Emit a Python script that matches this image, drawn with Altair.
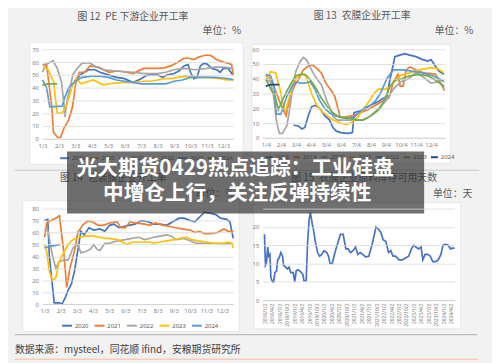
import altair as alt
import pandas as pd

FONT = "Noto Sans CJK SC"
NUMFONT = "Noto Sans"

# ---------------- 图12 PE下游企业开工率 ----------------
PE_ORDER = ["2019", "2020", "2021", "2022", "2023", "2024"]
PE_COLORS = ["#4472C4", "#ED7D31", "#A5A5A5", "#FFC000", "#5B9BD5", "#70AD47"]
PE_2019_M = [2.0, 2.3, 2.8, 3.2, 3.5, 4.0, 4.5, 5.0, 5.5, 6.0, 6.3, 6.6, 7.0, 7.3, 7.6, 8.0, 8.3, 8.6, 8.85, 9.0, 9.2, 9.4, 9.6, 9.8, 10.0, 10.3, 10.6, 10.8, 11.0, 11.3, 11.5, 11.6]
PE_2019_V = [45, 50, 54, 54, 52, 50, 48, 47, 44, 47, 49.5, 50, 50, 48, 50, 51, 53, 57, 58, 52, 47, 48, 57, 59, 58.5, 55, 54, 52, 55, 55, 51, 50]
PE_2020_M = [0, 0.25, 0.57, 0.67, 0.93, 1.1, 1.3, 1.6, 1.83, 2.04, 2.25, 2.57, 2.88, 3.4, 4.04, 4.57, 5.1, 5.5, 6.15, 7.0, 7.4, 7.8, 8.25, 8.57, 8.9, 9.2, 9.5, 9.94, 10.25, 10.57, 11.0, 11.3, 11.5, 11.6]
PE_2020_V = [58, 58, 25, 5, 1, 1, 8, 15, 25, 45, 52, 52, 57, 56, 52, 53, 52, 51, 55, 55, 55.5, 57, 60, 63, 63, 62, 64, 65.5, 65, 62, 60, 59, 58, 50]
PE_2021_M = [0, 0.2, 0.5, 0.65, 0.9, 1.15, 1.3, 1.37, 1.5, 1.85, 2.1, 2.4, 2.85, 3.3, 3.7, 4.5, 5.5, 6.2, 7.0, 7.5, 8.0, 8.6, 9.3, 10.0, 10.5, 11.0, 11.6]
PE_2021_V = [52, 58, 60, 61, 55, 45, 28, 17, 30, 50, 55, 59, 59.5, 56, 54, 53, 52, 51, 51, 52, 54, 55, 54, 55, 56, 56, 55]
PE_2022_M = [0.05, 0.3, 0.67, 0.9, 1.2, 1.5, 1.83, 2.04, 2.36, 2.8, 3.1, 3.4, 3.7, 4.04, 4.46, 4.9, 5.5, 6.15, 6.6, 7.0, 7.4, 7.8, 8.25, 8.7, 9.1, 9.5, 9.9, 10.4, 10.8, 11.2, 11.6]
PE_2022_V = [56, 55, 45, 20, 20, 27, 42, 47, 43, 45, 46, 44, 42, 43, 43.5, 44, 44, 45, 45, 46, 47, 47, 48, 49, 48.5, 48, 48, 47.5, 47, 46, 46]
PE_2023_M = [0, 0.25, 0.45, 1.2, 1.35, 1.6, 2.0, 2.4, 3.0, 3.5, 4.0, 4.5, 5.0, 5.5, 6.0, 7.0, 7.5, 8.0, 8.5, 9.0, 9.5, 10.0, 10.5, 11.0, 11.5, 11.6]
PE_2023_V = [46, 40, 25, 25.5, 32, 40, 45, 48, 49, 49, 48, 46, 45, 44, 43, 43, 43, 45, 46, 48, 48, 48, 48, 47.5, 46.5, 46]
PE_2024_M = [0, 0.3, 0.6, 0.9]
PE_2024_V = [42, 43, 43, 43]

# ---------------- 图13 农膜企业开工率 ----------------
NM_ORDER = ["2018", "2019", "2020", "2021", "2022", "2023", "2024"]
NM_COLORS = ["#4472C4", "#ED7D31", "#A5A5A5", "#FFC000", "#5B9BD5", "#70AD47", "#264478"]
NM_2018_M = [1.85, 2.18, 2.4, 2.6, 2.83, 3.05, 3.27, 3.6, 3.92, 4.25, 4.47, 4.7, 5.0, 5.45, 5.77, 5.88, 6.2, 6.5, 6.97, 7.4, 7.7, 8.06, 8.28, 8.6, 8.93, 9.26, 9.59, 10.0, 10.46, 10.8, 11.0, 11.33, 11.55, 11.87]
NM_2018_V = [8.5, 8, 6, 7, 15, 21, 22, 20, 15, 12, 7, 4.5, 3.5, 3, 3.5, 17, 18, 19, 22, 24, 26, 28, 40, 55, 56, 57, 56, 55, 53, 52, 53, 48, 45, 43]
NM_2019_M = [0, 0.3, 0.6, 0.9, 1.2, 1.35, 1.6, 1.9, 2.2, 2.5, 2.8, 3.1, 3.4, 3.7, 4.0, 4.36, 4.6, 4.8, 4.95, 5.3, 5.8, 6.3, 6.8, 7.3, 7.8, 8.2, 8.5, 8.8, 8.95, 9.15, 9.35, 9.6, 10.0, 10.5, 11.0, 11.3, 11.6, 11.9]
NM_2019_V = [42, 40, 33, 25, 18, 15, 27, 35, 40, 46, 48.5, 49.5, 47, 44, 37, 32, 28, 20, 14, 14, 15, 17, 19, 22, 25, 27, 38, 43, 35, 35, 46, 48, 46, 44, 43.5, 43, 38, 32]
NM_2020_M = [0, 0.3, 0.5, 0.7, 0.9, 1.1, 1.4, 1.6, 1.8, 2.0, 2.3, 2.5, 2.7, 2.95, 3.2, 3.4, 3.7, 3.9, 4.1, 4.3, 4.5, 4.8, 5.2, 5.6, 6.0, 6.5, 7.0, 7.5, 8.0, 8.5, 9.0, 9.5, 10.0, 10.5, 11.0, 11.5, 11.9]
NM_2020_V = [40, 38, 30, 12, 3, 3, 8, 20, 35, 45, 52, 54.5, 53, 48, 43, 40, 36, 30, 24, 20, 14, 12, 12, 12, 12, 12, 15, 20, 25, 33, 38, 40, 44, 41, 37, 38, 34]
NM_2021_M = [0, 0.33, 0.65, 0.9, 1.1, 1.3, 1.55, 1.75, 2.0, 2.3, 2.6, 2.8, 3.05, 3.4, 3.7, 4.1, 4.47, 5.0, 5.34, 5.66, 5.9, 6.2, 6.54, 6.9, 7.2, 7.5, 8.0, 8.3, 8.93, 9.6, 10.24, 11.0, 11.44, 11.87]
NM_2021_V = [38, 45, 44, 35, 25, 18, 27, 35, 40, 43, 43, 38, 30, 22, 18, 15, 12, 10, 9, 10, 12, 15, 20, 25, 30, 33, 33, 35, 42, 44, 46, 47.5, 47, 44]
NM_2022_M = [0, 0.33, 0.55, 0.7, 1.0, 1.2, 1.4, 1.75, 2.0, 2.3, 2.6, 2.95, 3.27, 3.6, 3.92, 4.25, 4.57, 5.0, 5.45, 5.88, 6.2, 6.54, 6.97, 7.3, 7.63, 8.06, 8.5, 9.15, 9.8, 10.46, 11.1, 11.55, 11.87]
NM_2022_V = [43, 42, 35, 16, 16, 22, 28, 35, 38, 37, 37, 38, 33, 25, 20, 17, 15, 14, 13, 14, 17, 20, 22, 25, 30, 40, 46, 46, 45, 44, 42, 40, 38]
NM_2023_M = [0, 0.33, 0.65, 0.83, 1.09, 1.42, 1.75, 2.0, 2.3, 2.53, 2.75, 3.05, 3.38, 3.7, 4.03, 4.47, 4.9, 5.34, 5.66, 6.1, 6.43, 6.86, 7.3, 7.63, 7.95, 8.28, 8.6, 9.04, 9.59, 10.24, 10.78, 11.33, 11.87]
NM_2023_V = [40, 33, 27, 19, 25, 32, 38, 42, 43, 43, 42, 38, 33, 27, 22, 17, 14, 13.5, 13, 12, 12, 14, 17, 20, 27, 35, 39, 40, 42, 43, 42, 39, 35]
NM_2024_M = [0, 0.3, 0.6, 0.9]
NM_2024_V = [35, 36, 36, 36]

# ---------------- 图14 包装膜企业开工率 ----------------
BZ_ORDER = ["2020", "2021", "2022", "2023", "2024"]
BZ_COLORS = ["#4472C4", "#ED7D31", "#A5A5A5", "#FFC000", "#5B9BD5"]
BZ_2020_M = [0, 0.2, 0.3, 0.6, 0.9, 1.08, 1.27, 1.47, 1.67, 1.86, 2.06, 2.25, 2.45, 2.75, 3.04, 3.43, 3.73, 4.02, 4.3, 4.6, 4.9, 5.2, 5.6, 6.0, 6.4, 6.76, 7.16, 7.55, 7.94, 8.33, 8.63, 9.0, 9.3, 9.6, 9.9, 10.3, 10.6, 10.9, 11.27, 11.47, 11.68]
BZ_2020_V = [70, 71, 40, 1, 1, 0, 5, 12, 17, 28, 45, 61, 58, 64, 62, 63, 61, 66, 67, 64, 65, 66, 67, 70, 69, 67, 67, 66, 69, 72, 72, 70, 69, 73, 77, 76, 75, 72, 71, 69, 55]
BZ_2021_M = [0, 0.14, 0.4, 0.7, 0.92, 1.18, 1.37, 1.57, 1.86, 2.06, 2.35, 2.65, 2.94, 3.33, 3.63, 4.02, 4.5, 4.7, 5.0, 5.3, 5.6, 6.2, 6.5, 6.86, 7.35, 7.75, 8.14, 8.5, 9.0, 9.3, 9.6, 9.9, 10.3, 10.7, 11.1, 11.37, 11.68]
BZ_2021_V = [56, 68, 70, 72, 74, 45, 14, 30, 45, 60, 66, 69.5, 69, 66, 66, 68, 69, 64, 64, 69, 68, 67, 66, 68, 66, 65, 64, 63, 62, 60, 61, 59, 59, 60, 63, 61, 61]
BZ_2022_M = [0, 0.2, 0.5, 0.7, 0.88, 1.18, 1.47, 1.76, 2.06, 2.25, 2.55, 2.84, 3.04, 3.24, 3.43, 3.73, 4.02, 4.5, 5.0, 5.4, 5.8, 6.2, 6.5, 6.76, 7.16, 7.55, 7.84, 8.14, 8.63, 9.0, 9.4, 9.9, 10.5, 11.1, 11.47, 11.68]
BZ_2022_V = [63, 62, 40, 30, 35, 37, 37, 47, 50, 43, 44, 46, 50, 46, 45, 51, 51, 53, 54, 55, 56, 54, 55, 56, 57, 58, 57, 54, 55, 53, 51, 51, 51, 50, 51, 50]
BZ_2023_M = [0, 0.14, 0.3, 0.5, 0.7, 0.88, 1.18, 1.47, 1.76, 2.16, 2.55, 3.04, 3.43, 3.73, 4.02, 4.5, 4.8, 5.1, 5.5, 6.0, 6.5, 6.76, 7.16, 7.55, 8.04, 8.43, 8.82, 9.1, 9.5, 10.0, 10.5, 11.0, 11.37, 11.57, 11.68]
BZ_2023_V = [50, 44, 27, 20, 22, 35, 43, 50, 54, 56, 57, 57, 56, 55, 55, 54, 52, 50, 52, 52, 52, 51, 52, 53, 54, 55, 56, 54, 53, 52, 51, 51, 52, 51, 47]
BZ_2024_M = [0, 0.2, 0.6, 0.98]
BZ_2024_V = [47, 48, 49, 50]

# ---------------- 图15 农膜企业原料库存可用天数 (months since 2018/1) ----------------
KC_M = [0, 0.4, 0.8, 1.3, 1.7, 2.2, 2.6, 3.3, 3.7, 4.2, 4.9, 5.3, 5.9, 6.6, 7.3, 7.7, 8.6, 9.2, 9.9, 10.6, 11.6, 12.2, 12.8, 13.5, 14.5, 15.5, 15.9, 16.8, 17.4, 18.0, 18.5, 19.2, 19.8, 20.5, 21.4, 22.2, 23.1, 24.0, 25.1, 25.8, 26.4, 27.3, 28.4, 29.7, 30.6, 31.7, 32.8, 33.7, 34.6, 35.7, 36.7, 37.6, 38.6, 39.6, 40.7, 42.0, 43.3, 44.3, 44.9, 45.8, 46.9, 47.8, 48.9, 50.0, 50.9, 51.8, 52.8, 54.2, 55.5, 56.8, 58.1, 59.2, 60.1, 61.0, 62.1, 63.1, 63.8, 64.7, 65.8, 66.8, 67.8, 69.0, 70.0, 71.1, 71.9, 72.9, 74.0, 75.0, 75.8, 76.6]
KC_V = [18, 9.5, 10, 14.5, 12, 12.5, 6, 5, 5, 7.5, 8, 11, 11.5, 13, 12, 9.5, 9, 8.5, 9, 7.5, 7.5, 5, 8, 8.3, 7.8, 7, 5.3, 5.3, 16, 22, 24, 21, 19, 16, 13, 12, 12.5, 13.5, 13, 12, 10, 10, 13, 16, 18, 18, 14, 14, 13, 13.5, 14.5, 12.5, 13, 12.5, 11.8, 12, 15, 18, 20, 19.5, 18.5, 16.5, 16, 13, 13.5, 12, 12, 11, 11, 11.5, 12, 14, 15, 14.5, 14, 14.5, 11, 12.5, 12.5, 12, 10.5, 10.5, 11, 12.5, 15, 15.2, 15, 14, 14.2, 14.2]

# ---------------- texts ----------------
T12 = "图 12\u2002PE 下游企业开工率"
T13 = "图 13\u2002农膜企业开工率"
T14 = "图 14\u2002包装膜企业开工率"
T15 = "图 15\u2002农膜企业原料库存可用天数"
UNIT_PCT = "单位：%"
UNIT_DAY = "单位：天"
SOURCE = "数据来源：mysteel，同花顺 ifind，安粮期货研究所"
HEAD1 = "光大期货0429热点追踪：工业硅盘"
HEAD2 = "中增仓上行，关注反弹持续性"


def build(order, pairs):
    rows = []
    for name, (ms, vs) in zip(order, pairs):
        assert len(ms) == len(vs), name
        rows += [{"s": name, "m": a, "v": b} for a, b in zip(ms, vs)]
    return pd.DataFrame(rows)


PE_DF = build(PE_ORDER, [(PE_2019_M, PE_2019_V), (PE_2020_M, PE_2020_V), (PE_2021_M, PE_2021_V),
                         (PE_2022_M, PE_2022_V), (PE_2023_M, PE_2023_V), (PE_2024_M, PE_2024_V)])
NM_DF = build(NM_ORDER, [(NM_2018_M, NM_2018_V), (NM_2019_M, NM_2019_V), (NM_2020_M, NM_2020_V),
                         (NM_2021_M, NM_2021_V), (NM_2022_M, NM_2022_V), (NM_2023_M, NM_2023_V),
                         (NM_2024_M, NM_2024_V)])
BZ_DF = build(BZ_ORDER, [(BZ_2020_M, BZ_2020_V), (BZ_2021_M, BZ_2021_V), (BZ_2022_M, BZ_2022_V),
                         (BZ_2023_M, BZ_2023_V), (BZ_2024_M, BZ_2024_V)])
KC_DF = build(["days"], [(KC_M, KC_V)])

ONE = pd.DataFrame({"k": [0]})


def rect(x0, x1, y0, y1, fill, stroke=None, opacity=1.0):
    kw = dict(fill=fill, opacity=opacity)
    if stroke:
        kw.update(stroke=stroke, strokeWidth=0.8)
    return alt.Chart(ONE).mark_rect(**kw).encode(
        x=alt.value(x0), x2=alt.value(x1), y=alt.value(y0), y2=alt.value(y1))


def text(t, x, y, size, color, align="center", weight="normal"):
    return alt.Chart(ONE).mark_text(text=t, align=align, baseline="middle", font=FONT,
                                    fontSize=size, color=color, fontWeight=weight).encode(
        x=alt.value(x), y=alt.value(y))


def hline(x0, x1, y, color, w=1.0):
    return alt.Chart(ONE).mark_rule(color=color, strokeWidth=w).encode(
        x=alt.value(x0), x2=alt.value(x1), y=alt.value(y))


def yaxis(vals):
    return alt.Axis(values=vals, title=None, grid=True, gridColor="#d9d9d9", gridWidth=0.8,
                    domain=False, ticks=False, labelFont=NUMFONT, labelFontSize=6,
                    labelColor="#7f7f7f", labelPadding=4, zindex=1)


def xaxis(vals, expr, angle=0, size=6):
    kw = dict(values=vals, labelExpr=expr, title=None, grid=False, domain=True,
              domainColor="#d0d0d0", domainWidth=0.8, ticks=False, labelFont=NUMFONT,
              labelFontSize=size, labelColor="#7f7f7f", labelPadding=4, zindex=1,
              labelOverlap=False, labelFlush=False)
    if angle:
        kw.update(labelAngle=angle, labelAlign="right", labelBaseline="middle", labelPadding=3)
    return alt.Axis(**kw)


def legend(lx, ly, n, colpad, sym):
    return alt.Legend(orient="none", legendX=lx, legendY=ly, direction="horizontal", columns=n,
                      title=None, labelFont=NUMFONT, labelFontSize=6, labelColor="#595959",
                      symbolType="stroke", symbolSize=sym, symbolStrokeWidth=2, labelOffset=2,
                      columnPadding=colpad, padding=0)


def lines(df, order, colors, xdom, xvals, xexpr, ydom, yvals, lg):
    return alt.Chart(df).mark_line(strokeWidth=1.7).encode(
        x=alt.X("m:Q", scale=alt.Scale(domain=xdom, nice=False), axis=xaxis(xvals, xexpr)),
        y=alt.Y("v:Q", scale=alt.Scale(domain=ydom, nice=False), axis=yaxis(yvals)),
        color=alt.Color("s:N", scale=alt.Scale(domain=order, range=colors), legend=lg),
    )


MONTHS = list(range(12))

p12 = alt.layer(
    rect(-35, 457, -38, 317, "#f2f2f2"),
    rect(-13, 204, -7, 117, "white", "#e4e4e4"),
    text(T12, 92, -33, 10, "#595959"),
    text(UNIT_PCT, 202, -19, 10, "#595959", align="right"),
    lines(PE_DF, PE_ORDER, PE_COLORS, [0, 11.6], MONTHS, "(datum.value+1) + '/3'",
          [0, 70], list(range(0, 71, 10)), legend(17, 105, 6, 0, 81)),
).properties(width=194, height=91)

p13 = alt.layer(
    rect(-11, 191, -5, 116, "white", "#e4e4e4"),
    text(T13, 101, -34, 10, "#595959"),
    text(UNIT_PCT, 214, -19, 10, "#595959", align="right"),
    lines(NM_DF, NM_ORDER, NM_COLORS, [-0.2, 11.92], MONTHS, "(datum.value+1) + '/4'",
          [0, 60], list(range(0, 61, 10)), legend(2, 105, 7, 0, 49)),
).properties(width=185, height=90)

p14 = alt.layer(
    rect(-20, 200, -8, 125, "white", "#e4e4e4"),
    text(T14, 72, -31, 10, "#595959"),
    text(UNIT_PCT, 195, -15, 10, "#595959", align="right"),
    lines(BZ_DF, BZ_ORDER, BZ_COLORS, [-0.13, 11.68], MONTHS, "(datum.value+1) + '/3'",
          [0, 80], list(range(0, 81, 10)), legend(19, 113, 5, 2, 100)),
).properties(width=194, height=97)

kc_line = alt.Chart(KC_DF).mark_line(strokeWidth=1.7, color="#4472C4").encode(
    x=alt.X("m:Q", scale=alt.Scale(domain=[-0.67, 76.6], nice=False),
            axis=xaxis(list(range(0, 76, 3)),
                       "(floor(datum.value/12)+2018) + '/' + (datum.value%12+1) + '/2'",
                       angle=270, size=5)),
    y=alt.Y("v:Q", scale=alt.Scale(domain=[0, 25], nice=False), axis=yaxis(list(range(0, 26, 5)))),
)

p15 = alt.layer(
    hline(-252, -22, -39, "#c8c8c8", 1.2),
    hline(-12, 220, -39, "#c8c8c8", 1.2),
    rect(-9, 201, -6, 122, "white", "#e4e4e4"),
    text(T15, 103, -31, 10, "#595959"),
    text(UNIT_DAY, 213, -15, 10, "#595959", align="right"),
    hline(-252, 218, 128, "#bdbdbd", 1.2),
    text(SOURCE, -252, 144, 10, "#404040", align="left"),
    hline(-252, 218, 153, "#f6cdb8", 1.5),
    kc_line,
    rect(-199, 164, -58, 5, "#333333", opacity=0.7),
    text(HEAD1, -28, -40, 21, "white", weight="bold"),
    text(HEAD2, -26, -15, 21, "white", weight="bold"),
).properties(width=195, height=93)

chart = alt.concat(
    p12, p13, p14, p15, columns=2, spacing={"row": 71, "column": 30}, bounds="flush"
).resolve_scale(color="independent").properties(
    padding=0, background="#f2f2f2"
).configure_view(stroke=None)

chart.save("out.html", embed_options={"renderer": "svg", "actions": False})
